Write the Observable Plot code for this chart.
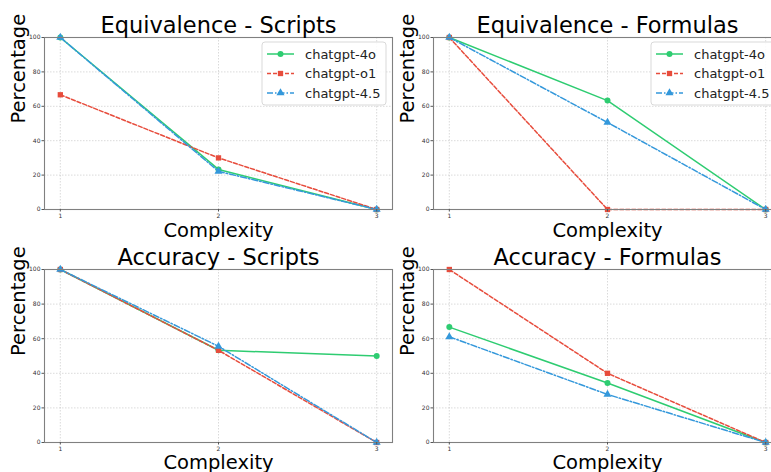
<!DOCTYPE html>
<html>
<head>
<meta charset="utf-8">
<script src="https://cdn.jsdelivr.net/npm/d3@7"></script>
<script src="https://cdn.jsdelivr.net/npm/@observablehq/plot@0.6"></script>
<style>
  html, body { margin: 0; padding: 0; background: #fff; }
  #chart { position: relative; width: 771px; height: 472px; overflow: hidden; background: #fff; font-family: "DejaVu Sans", sans-serif; }
  #chart svg { position: absolute; overflow: visible; }
</style>
</head>
<body>
<div id="chart"></div>
<script>
// ---- data ----
const complexity = [1, 2, 3];
const models = ["chatgpt-4o", "chatgpt-o1", "chatgpt-4.5"];
const modelColors = ["#2ecc71", "#e74c3c", "#3498db"];
const modelDashes = [null, "4,2", "6,2,1.5,2"];
const modelSymbols = ["circle", "square", "triangle"];
const yTicks = [0, 20, 40, 60, 80, 100];

// values per model (4o, o1, 4.5) at complexity 1, 2, 3
const equivalenceScripts = [[100, 23.3, 0], [66.7, 30.0, 0], [100, 22.2, 0]];
const equivalenceFormulas = [[100, 63.3, 0], [100, 0, 0], [100, 50.6, 0]];
const accuracyScripts = [[100, 53.3, 50.0], [100, 53.3, 0], [100, 55.6, 0]];
const accuracyFormulas = [[66.7, 34.4, 0], [100, 40.0, 0], [61.1, 27.8, 0]];

const panelTitles = ["Equivalence - Scripts", "Equivalence - Formulas", "Accuracy - Scripts", "Accuracy - Formulas"];
const panelValues = [equivalenceScripts, equivalenceFormulas, accuracyScripts, accuracyFormulas];
const panelLegend = [true, true, false, false];

// ---- layout ----
const layouts = [
  {left: 0,   top: 0,   width: 440, height: 240, mL: 44, mR: 48, mT: 37, mB: 31, titleDy: -5, labelDy: 27},
  {left: 385, top: 0,   width: 406, height: 240, mL: 48, mR: 10, mT: 37, mB: 31, titleDy: -5, labelDy: 27},
  {left: 0,   top: 235, width: 440, height: 237, mL: 44, mR: 48, mT: 34, mB: 30, titleDy: -5, labelDy: 26},
  {left: 385, top: 235, width: 406, height: 237, mL: 48, mR: 10, mT: 34, mB: 30, titleDy: -5, labelDy: 26}
];

const container = document.getElementById("chart");
const FONT = "DejaVu Sans, sans-serif";
const LW = 1.5, R = 3;

panelTitles.forEach((title, p) => {
  const L = layouts[p];
  const vals = panelValues[p];
  const rows = models.flatMap((m, i) => complexity.map((c, j) => ({model: m, complexity: c, value: vals[i][j]})));

  const seriesMarks = models.flatMap((m, i) => {
    const d = rows.filter(r => r.model === m);
    return [
      Plot.line(d, {x: "complexity", y: "value", stroke: modelColors[i], strokeWidth: LW, strokeDasharray: modelDashes[i] ?? undefined}),
      Plot.dot(d, {x: "complexity", y: "value", fill: modelColors[i], stroke: "none", symbol: modelSymbols[i], r: R})
    ];
  });

  const svg = Plot.plot({
    width: L.width,
    height: L.height,
    marginLeft: L.mL,
    marginRight: L.mR,
    marginTop: L.mT,
    marginBottom: L.mB,
    style: {fontFamily: FONT, background: "transparent"},
    x: {domain: [0.9, 3.1]},
    y: {domain: [0, 100]},
    marks: [
      Plot.gridX(complexity, {stroke: "#b0b0b0", strokeOpacity: 0.8, strokeWidth: 0.6, strokeDasharray: "1.5,1.5"}),
      Plot.gridY(yTicks, {stroke: "#b0b0b0", strokeOpacity: 0.8, strokeWidth: 0.6, strokeDasharray: "1.5,1.5"}),
      ...seriesMarks,
      Plot.frame({stroke: "#808080", strokeWidth: 1.1}),
      Plot.axisX(complexity, {tickSize: 2.5, tickPadding: 1.5, fontSize: 6, stroke: "#555", fill: "#333", label: null, tickFormat: d => String(d)}),
      Plot.axisY(yTicks, {tickSize: 2.5, tickPadding: 1.5, fontSize: 6, stroke: "#555", fill: "#333", label: null}),
      Plot.text([title], {frameAnchor: "top", lineAnchor: "bottom", dy: L.titleDy, fontSize: 22.5, fill: "#000", fontFamily: FONT}),
      Plot.text(["Complexity"], {frameAnchor: "bottom", lineAnchor: "bottom", dy: L.labelDy, fontSize: 19.5, fill: "#000", fontFamily: FONT}),
      Plot.text(["Percentage"], {frameAnchor: "left", lineAnchor: "bottom", rotate: -90, dx: -19.5, fontSize: 19.5, fill: "#000", fontFamily: FONT})
    ]
  });
  svg.style.left = L.left + "px";
  svg.style.top = L.top + "px";
  container.appendChild(svg);

  if (panelLegend[p]) {
    const frameRight = L.width - L.mR;
    const bx = frameRight - 130, by = L.mT + 5;
    const g = d3.select(svg).append("g").attr("font-family", FONT).attr("text-anchor", "start");
    g.append("rect").attr("x", bx).attr("y", by).attr("width", 124).attr("height", 63)
      .attr("rx", 3).attr("fill", "#fff").attr("fill-opacity", 0.85).attr("stroke", "#d9d9d9").attr("stroke-width", 1);
    models.forEach((m, i) => {
      const cy = by + 12 + i * 19.5;
      g.append("line").attr("x1", bx + 5).attr("x2", bx + 32).attr("y1", cy).attr("y2", cy)
        .attr("stroke", modelColors[i]).attr("stroke-width", LW)
        .attr("stroke-dasharray", modelDashes[i]);
      const sym = {circle: d3.symbolCircle, square: d3.symbolSquare, triangle: d3.symbolTriangle}[modelSymbols[i]];
      g.append("path").attr("d", d3.symbol(sym, Math.PI * R * R)())
        .attr("transform", `translate(${bx + 18.5},${cy})`).attr("fill", modelColors[i]);
      g.append("text").attr("x", bx + 43).attr("y", cy).attr("dy", "0.35em")
        .attr("text-anchor", "start").attr("font-size", 13).attr("fill", "#222").text(m);
    });
  }
});
</script>
</body>
</html>
